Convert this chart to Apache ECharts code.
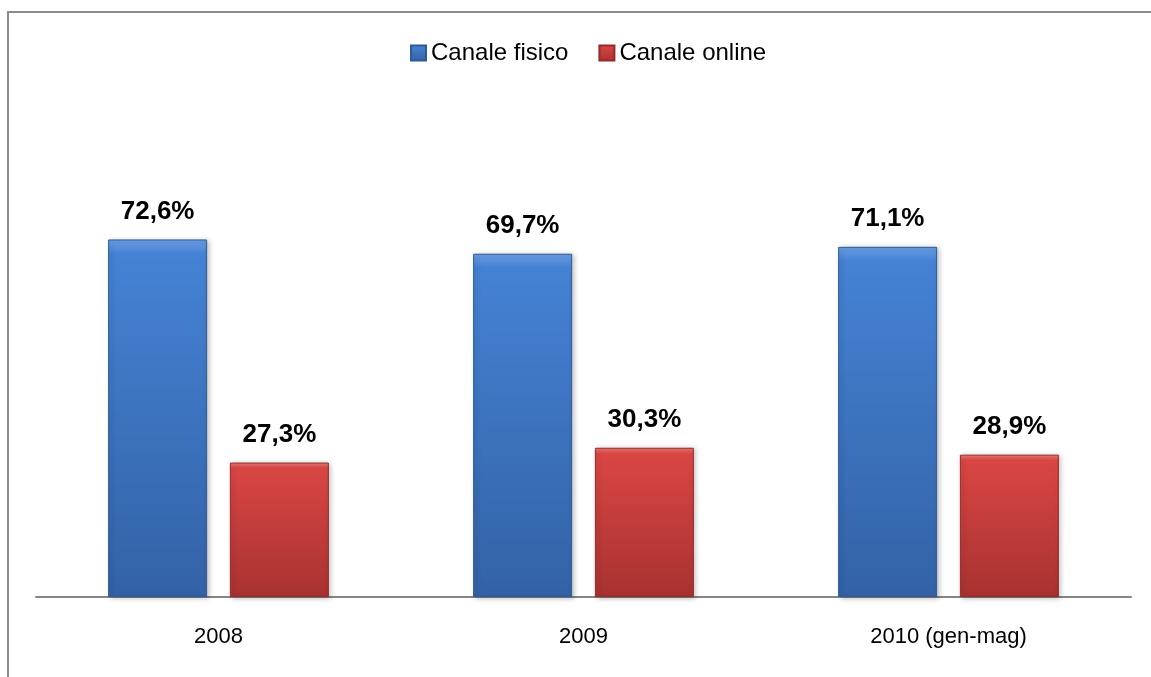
<!DOCTYPE html>
<html>
<head>
<meta charset="utf-8">
<script src="https://cdn.jsdelivr.net/npm/echarts@6/dist/echarts.min.js"></script>
<style>
  html, body { margin: 0; padding: 0; background: #ffffff; }
  #chart { width: 1151px; height: 677px; }
</style>
</head>
<body>
<div id="chart"></div>
<script>
// Quota del canale fisico e online per anno
const categories = ['2008', '2009', '2010 (gen-mag)'];
const canaleFisico = [72.6, 69.7, 71.1];
const canaleOnline = [27.3, 30.3, 28.9];
const seriesNames = ['Canale fisico', 'Canale online'];

const chart = echarts.init(document.getElementById('chart'), null, { renderer: 'canvas' });

function fmt(p) {
  return p.value.toFixed(1).replace('.', ',') + '%';
}

function barGradient(top, mid, bottom) {
  return new echarts.graphic.LinearGradient(0, 0, 0, 1, [
    { offset: 0, color: top },
    { offset: 0.04, color: mid },
    { offset: 1, color: bottom }
  ]);
}

const labelStyle = {
  show: true,
  position: 'top',
  distance: 15,
  formatter: fmt,
  fontFamily: '"Liberation Sans", Arial, sans-serif',
  fontWeight: 'bold',
  fontSize: 26,
  color: '#000000'
};

chart.setOption({
  animation: false,
  backgroundColor: '#ffffff',
  graphic: [{
    type: 'rect',
    shape: { x: 8, y: 12, width: 1300, height: 800 },
    style: { fill: 'none', stroke: '#8c8c8c', lineWidth: 2 },
    silent: true
  }],
  legend: {
    data: seriesNames,
    top: 36,
    left: 405,
    itemWidth: 15,
    itemHeight: 15,
    itemGap: 30,
    icon: 'rect',
    textStyle: {
      fontFamily: '"Liberation Sans", Arial, sans-serif',
      fontSize: 24,
      color: '#000000'
    }
  },
  grid: { left: 36, right: 20, top: 203, bottom: 80, containLabel: false },
  xAxis: {
    type: 'category',
    data: categories,
    axisLine: { show: true, lineStyle: { color: '#868686', width: 2 } },
    axisTick: { show: false },
    axisLabel: {
      margin: 29,
      fontFamily: '"Liberation Sans", Arial, sans-serif',
      fontSize: 22,
      color: '#000000'
    }
  },
  yAxis: {
    type: 'value',
    min: 0,
    max: 80,
    show: false,
    splitLine: { show: false }
  },
  series: [
    {
      name: seriesNames[0],
      type: 'bar',
      data: canaleFisico,
      barWidth: 99,
      barGap: '23%',
      itemStyle: {
        color: barGradient('#6c9fe4', '#4582d4', '#3362a6'),
        borderColor: '#2d5a96',
        borderWidth: 1,
        shadowColor: 'rgba(0,0,0,0.25)',
        shadowBlur: 5,
        shadowOffsetX: 2,
        shadowOffsetY: 1
      },
      label: labelStyle
    },
    {
      name: seriesNames[1],
      type: 'bar',
      data: canaleOnline,
      barWidth: 99,
      itemStyle: {
        color: barGradient('#ee7c7a', '#d94644', '#a83230'),
        borderColor: '#962a28',
        borderWidth: 1,
        shadowColor: 'rgba(0,0,0,0.25)',
        shadowBlur: 5,
        shadowOffsetX: 2,
        shadowOffsetY: 1
      },
      label: labelStyle
    }
  ]
});
</script>
</body>
</html>
